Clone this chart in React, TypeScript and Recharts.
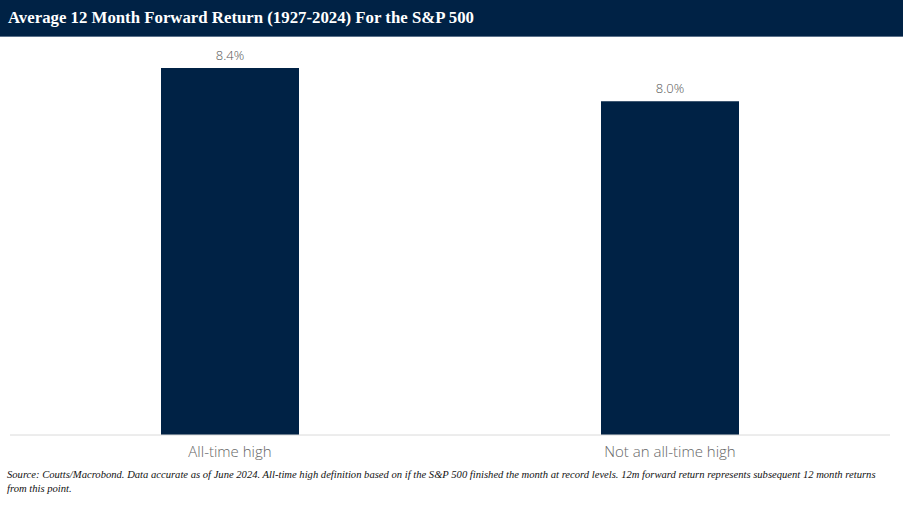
import React from "react";
import { BarChart, Bar, XAxis, YAxis, LabelList } from "recharts";

const categories = ["All-time high", "Not an all-time high"];
const returns = [8.4, 8.0];
const valueDomain: [number, number] = [4, 8.4];

const NAVY = "#002245";
const SERIF = "'Liberation Serif', 'DejaVu Serif', serif";
const SANS = "'Open Sans', 'Liberation Sans', sans-serif";

const data = categories.map((name, i) => ({ name, value: returns[i] }));

export default function App() {
  return (
    <div style={{ position: "absolute", left: 0, top: 0, width: 903, height: 510, background: "#fff" }}>
      <style>{`body{margin:0}`}</style>
      <div
        style={{
          position: "absolute",
          left: 0,
          top: 0,
          width: 903,
          height: 37,
          background: NAVY,
          borderBottom: "1px solid #5b718a",
          boxSizing: "border-box",
        }}
      >
        <div
          style={{
            position: "absolute",
            left: 8,
            top: 8,
            color: "#fff",
            fontFamily: SERIF,
            fontWeight: 700,
            fontSize: 16.8,
            whiteSpace: "nowrap",
          }}
        >
          Average 12 Month Forward Return (1927-2024) For the S&amp;P 500
        </div>
      </div>
      <div style={{ position: "absolute", left: 0, top: 0 }}>
        <BarChart
          width={903}
          height={510}
          data={data}
          margin={{ top: 68, right: 13, bottom: 45, left: 10 }}
        >
          <XAxis
            dataKey="name"
            height={30}
            axisLine={{ stroke: "#dadada" }}
            tickLine={false}
            tickSize={0}
            tickMargin={11}
            tick={{ fill: "#666", fontSize: 15, fontFamily: SANS, fontWeight: 300 }}
          />
          <YAxis hide domain={valueDomain} allowDataOverflow />
          <Bar dataKey="value" fill={NAVY} barSize={138} isAnimationActive={false}>
            <LabelList
              dataKey="value"
              position="top"
              offset={8}
              formatter={(v: number) => `${v.toFixed(1)}%`}
              style={{ fill: "#555", fontSize: 13, fontFamily: SANS, fontWeight: 300 }}
            />
          </Bar>
        </BarChart>
      </div>
      <div
        style={{
          position: "absolute",
          left: 7,
          top: 468,
          width: 890,
          color: "#111",
          fontFamily: SERIF,
          fontStyle: "italic",
          fontSize: 10.6,
          lineHeight: "14px",
        }}
      >
        Source: Coutts/Macrobond. Data accurate as of June 2024. All-time high definition based on if the S&amp;P 500
        finished the month at record levels. 12m forward return represents subsequent 12 month returns from this point.
      </div>
    </div>
  );
}
